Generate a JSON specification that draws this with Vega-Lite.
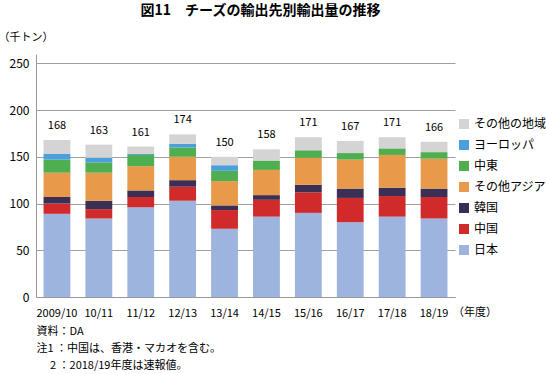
{
  "$schema": "https://vega.github.io/schema/vega-lite/v6.json",
  "width": 419,
  "height": 243,
  "autosize": {"type": "none"},
  "padding": {"left": 36, "top": 54, "right": 92, "bottom": 77},
  "background": "white",
  "config": {
    "font": "Noto Sans CJK JP",
    "view": {"stroke": null}
  },
  "title": {
    "text": "図11　チーズの輸出先別輸出量の推移",
    "fontSize": 14,
    "fontWeight": "bold",
    "anchor": "middle",
    "frame": "group",
    "dx": 15,
    "offset": 13,
    "color": "#000"
  },
  "datasets": {
    "exports": [
      {"year": "2009/10", "region": "日本", "ord": 1, "value": 89},
      {"year": "2009/10", "region": "中国", "ord": 2, "value": 11},
      {"year": "2009/10", "region": "韓国", "ord": 3, "value": 7},
      {"year": "2009/10", "region": "その他アジア", "ord": 4, "value": 26},
      {"year": "2009/10", "region": "中東", "ord": 5, "value": 14},
      {"year": "2009/10", "region": "ヨーロッパ", "ord": 6, "value": 6},
      {"year": "2009/10", "region": "その他の地域", "ord": 7, "value": 15},
      {"year": "10/11", "region": "日本", "ord": 1, "value": 84},
      {"year": "10/11", "region": "中国", "ord": 2, "value": 10},
      {"year": "10/11", "region": "韓国", "ord": 3, "value": 9},
      {"year": "10/11", "region": "その他アジア", "ord": 4, "value": 30},
      {"year": "10/11", "region": "中東", "ord": 5, "value": 11},
      {"year": "10/11", "region": "ヨーロッパ", "ord": 6, "value": 5},
      {"year": "10/11", "region": "その他の地域", "ord": 7, "value": 14},
      {"year": "11/12", "region": "日本", "ord": 1, "value": 96},
      {"year": "11/12", "region": "中国", "ord": 2, "value": 11},
      {"year": "11/12", "region": "韓国", "ord": 3, "value": 7},
      {"year": "11/12", "region": "その他アジア", "ord": 4, "value": 26},
      {"year": "11/12", "region": "中東", "ord": 5, "value": 12},
      {"year": "11/12", "region": "ヨーロッパ", "ord": 6, "value": 1},
      {"year": "11/12", "region": "その他の地域", "ord": 7, "value": 8},
      {"year": "12/13", "region": "日本", "ord": 1, "value": 103},
      {"year": "12/13", "region": "中国", "ord": 2, "value": 15},
      {"year": "12/13", "region": "韓国", "ord": 3, "value": 7},
      {"year": "12/13", "region": "その他アジア", "ord": 4, "value": 25},
      {"year": "12/13", "region": "中東", "ord": 5, "value": 10},
      {"year": "12/13", "region": "ヨーロッパ", "ord": 6, "value": 4},
      {"year": "12/13", "region": "その他の地域", "ord": 7, "value": 10},
      {"year": "13/14", "region": "日本", "ord": 1, "value": 73},
      {"year": "13/14", "region": "中国", "ord": 2, "value": 20},
      {"year": "13/14", "region": "韓国", "ord": 3, "value": 5},
      {"year": "13/14", "region": "その他アジア", "ord": 4, "value": 26},
      {"year": "13/14", "region": "中東", "ord": 5, "value": 11},
      {"year": "13/14", "region": "ヨーロッパ", "ord": 6, "value": 6},
      {"year": "13/14", "region": "その他の地域", "ord": 7, "value": 9},
      {"year": "14/15", "region": "日本", "ord": 1, "value": 86},
      {"year": "14/15", "region": "中国", "ord": 2, "value": 18},
      {"year": "14/15", "region": "韓国", "ord": 3, "value": 5},
      {"year": "14/15", "region": "その他アジア", "ord": 4, "value": 27},
      {"year": "14/15", "region": "中東", "ord": 5, "value": 10},
      {"year": "14/15", "region": "ヨーロッパ", "ord": 6, "value": 0},
      {"year": "14/15", "region": "その他の地域", "ord": 7, "value": 12},
      {"year": "15/16", "region": "日本", "ord": 1, "value": 90},
      {"year": "15/16", "region": "中国", "ord": 2, "value": 22},
      {"year": "15/16", "region": "韓国", "ord": 3, "value": 8},
      {"year": "15/16", "region": "その他アジア", "ord": 4, "value": 29},
      {"year": "15/16", "region": "中東", "ord": 5, "value": 8},
      {"year": "15/16", "region": "ヨーロッパ", "ord": 6, "value": 0},
      {"year": "15/16", "region": "その他の地域", "ord": 7, "value": 14},
      {"year": "16/17", "region": "日本", "ord": 1, "value": 80},
      {"year": "16/17", "region": "中国", "ord": 2, "value": 26},
      {"year": "16/17", "region": "韓国", "ord": 3, "value": 10},
      {"year": "16/17", "region": "その他アジア", "ord": 4, "value": 31},
      {"year": "16/17", "region": "中東", "ord": 5, "value": 7},
      {"year": "16/17", "region": "ヨーロッパ", "ord": 6, "value": 0},
      {"year": "16/17", "region": "その他の地域", "ord": 7, "value": 13},
      {"year": "17/18", "region": "日本", "ord": 1, "value": 86},
      {"year": "17/18", "region": "中国", "ord": 2, "value": 22},
      {"year": "17/18", "region": "韓国", "ord": 3, "value": 9},
      {"year": "17/18", "region": "その他アジア", "ord": 4, "value": 35},
      {"year": "17/18", "region": "中東", "ord": 5, "value": 7},
      {"year": "17/18", "region": "ヨーロッパ", "ord": 6, "value": 0},
      {"year": "17/18", "region": "その他の地域", "ord": 7, "value": 12},
      {"year": "18/19", "region": "日本", "ord": 1, "value": 84},
      {"year": "18/19", "region": "中国", "ord": 2, "value": 23},
      {"year": "18/19", "region": "韓国", "ord": 3, "value": 9},
      {"year": "18/19", "region": "その他アジア", "ord": 4, "value": 32},
      {"year": "18/19", "region": "中東", "ord": 5, "value": 7},
      {"year": "18/19", "region": "ヨーロッパ", "ord": 6, "value": 0},
      {"year": "18/19", "region": "その他の地域", "ord": 7, "value": 11}
    ],
    "unit": [{"year": "18/19", "label": "（年度）"}]
  },
  "encoding": {
    "x": {
      "field": "year",
      "type": "nominal",
      "sort": null,
      "scale": {"paddingInner": 0.36, "paddingOuter": 0.18},
      "axis": {
        "labelAngle": 0,
        "labelFontSize": 11,
        "labelColor": "#000",
        "labelPadding": 10,
        "ticks": false,
        "domainColor": "#999",
        "title": ["資料：DA", "注1 ：中国は、香港・マカオを含む。", "\u200b\u3000 2 ：2018/19年度は速報値。"],
        "titleFontSize": 11,
        "titleFontWeight": "normal",
        "titleColor": "#000",
        "titleAnchor": "start",
        "titleAlign": "left",
        "titleBaseline": "top",
        "titleLineHeight": 17,
        "titleX": 0,
        "titleY": 28
      }
    }
  },
  "layer": [
    {
      "data": {"name": "exports"},
      "mark": {"type": "bar"},
      "encoding": {
        "y": {
          "field": "value",
          "type": "quantitative",
          "stack": "zero",
          "scale": {"domain": [0, 250]},
          "axis": {
            "values": [0, 50, 100, 150, 200, 250],
            "labelFontSize": 12,
            "labelColor": "#000",
            "labelPadding": 7,
            "ticks": false,
            "gridColor": "#a0a0a0",
            "domainColor": "#999",
            "title": "（千トン）",
            "titleAngle": 0,
            "titleFontSize": 11,
            "titleFontWeight": "normal",
            "titleColor": "#000",
            "titleAlign": "left",
            "titleBaseline": "middle",
            "titleX": -38,
            "titleY": -17
          }
        },
        "color": {
          "field": "region",
          "type": "nominal",
          "scale": {
            "domain": ["その他の地域", "ヨーロッパ", "中東", "その他アジア", "韓国", "中国", "日本"],
            "range": ["#d4d4d4", "#4a9fdc", "#4fae4f", "#e8994a", "#3b2f56", "#d02a2a", "#9db4de"]
          },
          "legend": {
            "title": null,
            "orient": "none",
            "legendX": 422,
            "legendY": 64,
            "symbolType": "square",
            "symbolSize": 100,
            "symbolStrokeWidth": 0,
            "labelFontSize": 12,
            "labelColor": "#000",
            "labelOffset": 4,
            "rowPadding": 9,
            "labelLimit": 90
          }
        },
        "order": {"field": "ord", "type": "quantitative", "sort": "ascending"}
      }
    },
    {
      "data": {"name": "exports"},
      "mark": {"type": "text", "baseline": "bottom", "dy": -9, "fontSize": 11, "color": "#000"},
      "encoding": {
        "y": {"aggregate": "sum", "field": "value", "type": "quantitative"},
        "text": {"aggregate": "sum", "field": "value", "type": "quantitative"}
      }
    },
    {
      "data": {"name": "unit"},
      "mark": {"type": "text", "align": "left", "baseline": "middle", "dx": 19, "dy": 16, "fontSize": 11, "color": "#000"},
      "encoding": {
        "y": {"datum": 0, "type": "quantitative"},
        "text": {"field": "label"}
      }
    }
  ]
}
